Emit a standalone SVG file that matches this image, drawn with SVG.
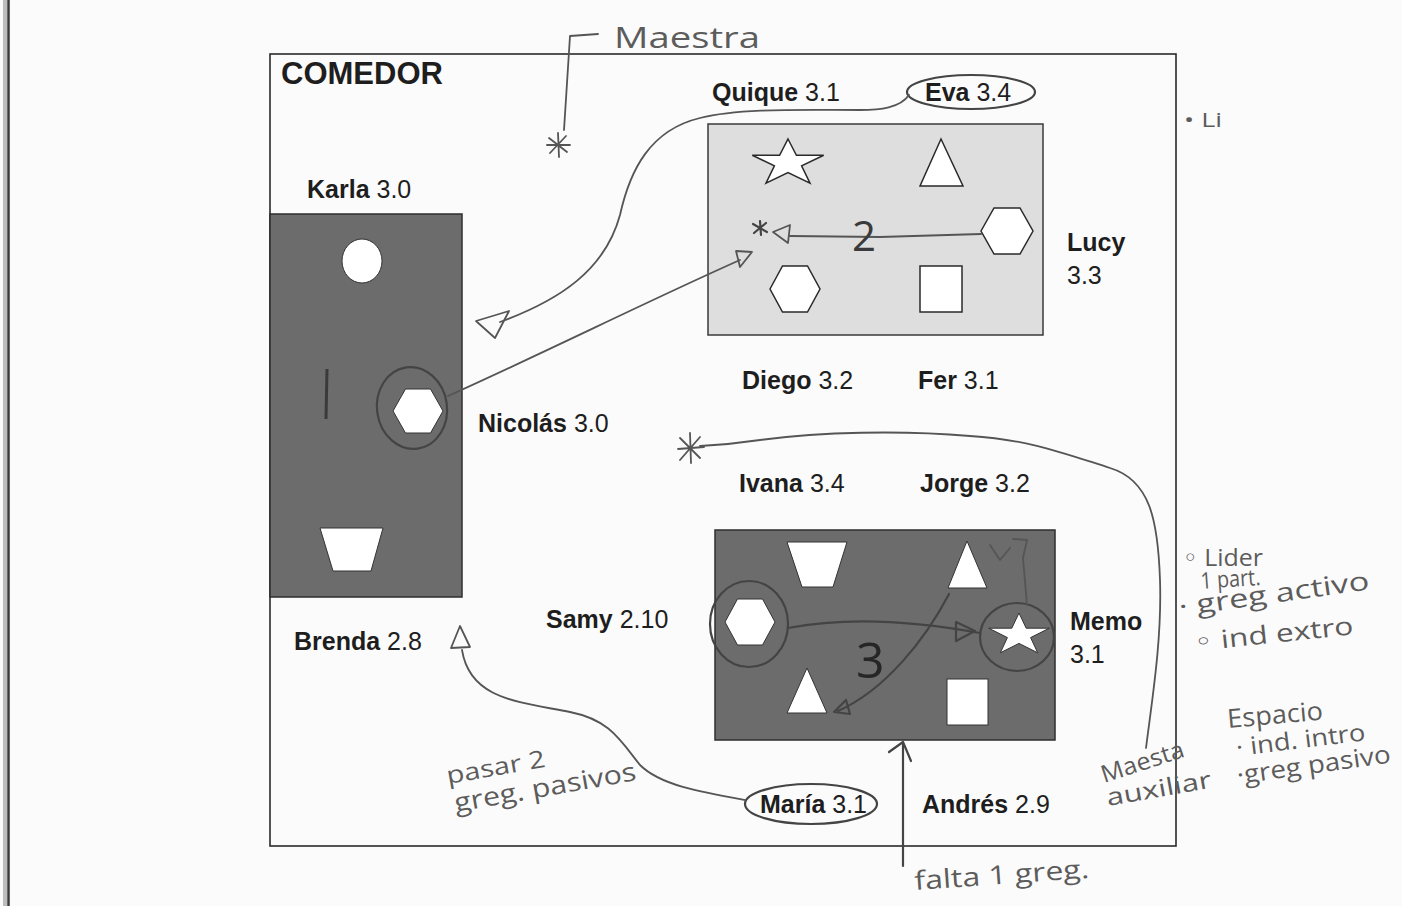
<svg xmlns="http://www.w3.org/2000/svg" width="1402" height="906" viewBox="0 0 1402 906">
<defs>
<style>
.page{fill:#fcfbfb}
.frame{fill:none;stroke:#2a2a2a;stroke-width:1.6}
.dark{fill:#6c6c6c;stroke:#2e2e2e;stroke-width:1.5}
.light{fill:#dedede;stroke:#3a3a3a;stroke-width:1.5}
.shape{fill:#ffffff;stroke:#2a2a2a;stroke-width:1.5}
.shapew{fill:#ffffff;stroke:#333;stroke-width:1}
.name{font-family:"Liberation Sans",Arial,sans-serif;font-size:25px;fill:#1e1e1e}
.name .b{font-weight:bold}
.title{font-family:"Liberation Sans",Arial,sans-serif;font-size:31px;font-weight:bold;fill:#1e1e1e}
.pen{fill:none;stroke:#555;stroke-width:1.8;stroke-linecap:round;stroke-linejoin:round}
.pend{fill:none;stroke:#444;stroke-width:2.2;stroke-linecap:round;stroke-linejoin:round}
.hand{font-family:"Open Sans","DejaVu Sans",sans-serif;fill:#5c5c5c;font-weight:normal}
.num{font-family:"Open Sans","DejaVu Sans",sans-serif;fill:#3a3a3a}
</style>
</defs>
<rect class="page" x="0" y="0" width="1402" height="906"/>
<rect x="3" y="0" width="4" height="906" fill="#bdbdbd"/>
<line x1="8.5" y1="0" x2="8.5" y2="906" stroke="#3a3a3a" stroke-width="2.5"/>

<g id="comedor">
<rect class="frame" x="270" y="54" width="906" height="792"/>
<text class="title" x="281" y="84">COMEDOR</text>
</g>

<g id="mesa-izquierda">
<rect class="dark" x="270" y="214" width="192" height="383"/>
<ellipse class="shapew" cx="362" cy="261" rx="20" ry="22"/>
<line x1="327" y1="369" x2="326" y2="419" stroke="#3a3a3a" stroke-width="3"/>
<polygon class="shapew" points="393,411 405.5,389 430.5,389 443,411 430.5,433 405.5,433"/>
<polygon class="shapew" points="320,528 383,528 371,571 333,571"/>
</g>

<g id="mesa-superior">
<rect class="light" x="708" y="124" width="335" height="211"/>
<path class="shape" d="M788,139 L796.4,155.3 L823.7,155.3 L801.6,165.9 L810,183.2 L788,172.5 L766,183.2 L774.4,165.9 L752.3,155.3 L779.6,155.3 Z"/>
<polygon class="shape" points="941,139 963,186 920,186"/>
<polygon class="shape" points="981,231 994,208 1020,208 1033,231 1020,254 994,254"/>
<polygon class="shape" points="770,289 782.5,266 807.5,266 820,289 807.5,312 782.5,312"/>
<rect class="shape" x="920" y="266" width="42" height="46"/>
</g>

<g id="mesa-inferior">
<rect class="dark" x="715" y="530" width="340" height="210"/>
<polygon class="shapew" points="787,542 847,542 833,587 802,587"/>
<polygon class="shapew" points="967,541 987,588 948,588"/>
<polygon class="shapew" points="725,622 737.5,599 762.5,599 775,622 762.5,645 737.5,645"/>
<path class="shapew" d="M1019,613 L1026.2,628.2 L1049.3,628.2 L1030.6,637.6 L1037.7,652.8 L1019,643.4 L1000.3,652.8 L1007.4,637.6 L988.7,628.2 L1011.8,628.2 Z"/>
<polygon class="shapew" points="807,668 827,713 787,713"/>
<rect class="shapew" x="947" y="679" width="41" height="46"/>
</g>

<g id="nombres">
<text class="name" x="712" y="101"><tspan class="b">Quique</tspan> 3.1</text>
<g id="eva"><ellipse class="pend" cx="971" cy="92" rx="64" ry="17"/><text class="name" x="925" y="101"><tspan class="b">Eva</tspan> 3.4</text></g>
<text class="name" x="307" y="198"><tspan class="b">Karla</tspan> 3.0</text>
<text class="name" x="1067" y="251"><tspan class="b">Lucy</tspan></text>
<text class="name" x="1067" y="284">3.3</text>
<text class="name" x="742" y="389"><tspan class="b">Diego</tspan> 3.2</text>
<text class="name" x="918" y="389"><tspan class="b">Fer</tspan> 3.1</text>
<text class="name" x="478" y="432"><tspan class="b">Nicolás</tspan> 3.0</text>
<text class="name" x="739" y="492"><tspan class="b">Ivana</tspan> 3.4</text>
<text class="name" x="920" y="492"><tspan class="b">Jorge</tspan> 3.2</text>
<text class="name" x="546" y="628"><tspan class="b">Samy</tspan> 2.10</text>
<text class="name" x="1070" y="630"><tspan class="b">Memo</tspan></text>
<text class="name" x="1070" y="663">3.1</text>
<text class="name" x="294" y="650"><tspan class="b">Brenda</tspan> 2.8</text>
<g id="maria"><ellipse class="pend" cx="811" cy="804" rx="66" ry="20"/><text class="name" x="760" y="813"><tspan class="b">María</tspan> 3.1</text></g>
<text class="name" x="922" y="813"><tspan class="b">Andrés</tspan> 2.9</text>
</g>

<g id="conectores">
<path class="pen" d="M598,34 L570,36 L564,130"/>
<path class="pen" d="M549,138 L567,152 M566,136 L550,153 M558,133 L559,157 M547,145 L570,145"/>
<path class="pen" d="M909,95 C900,108 880,110 860,110 C800,110 740,108 700,118 C650,130 630,170 620,215 C605,270 560,300 500,322"/>
<polygon class="pen" points="476,321 509,311 495,338"/>
<ellipse class="pend" cx="412" cy="408" rx="35" ry="41" transform="rotate(-8 412 408)"/>
<path class="pen" d="M448,396 C550,350 650,300 740,260"/>
<polygon class="pen" points="736,251 752,252 740,267"/>
<path class="pen" d="M981,234 L880,237 L790,236"/>
<polygon class="pen" points="773,232 790,225 788,243"/>
<path class="pend" d="M753,224 L767,232 M766,223 L754,233 M760,221 L761,235"/>
<path class="pen" d="M1146,748 C1152,700 1162,640 1160,580 C1158,520 1150,480 1110,468 C1060,452 1030,440 970,436 C900,430 820,432 760,440 C740,443 720,445 700,446"/>
<path class="pen" d="M680,438 L700,458 M700,437 L680,460 M690,433 L691,463 M678,449 L704,447"/>
<ellipse class="pend" cx="749" cy="624" rx="39" ry="43"/>
<ellipse class="pend" cx="1017" cy="637" rx="37" ry="34"/>
<path class="pend" d="M788,628 C850,616 920,622 980,633"/>
<polygon class="pend" points="956,622 975,631 956,641"/>
<path class="pen" d="M990,545 L1000,560 L1010,548 M1013,539 L1027,540 L1023,558 L1027,605"/>
<path class="pend" d="M949,594 C925,640 885,690 838,711"/>
<polygon class="pend" points="834,712 846,700 850,714"/>
<path class="pen" d="M745,800 C700,792 660,785 640,765 C620,740 610,720 570,712 C520,702 470,700 462,650"/>
<polygon class="pen" points="460,626 470,647 451,648"/>
<path class="pend" d="M903,866 L903,743"/>
<path class="pend" d="M889,752 L903,742 L911,761"/>
</g>

<g id="anotaciones">
<text class="hand" x="614" y="48" font-size="30" textLength="146" lengthAdjust="spacingAndGlyphs">Maestra</text>
<text class="hand" x="1184" y="127" font-size="20" textLength="38" lengthAdjust="spacingAndGlyphs">• Li</text>
<text class="num" x="852" y="251" font-size="42">2</text>
<text class="num" x="856" y="678" font-size="50" style="fill:#262626">3</text>
<text class="hand" x="1183" y="566" font-size="24" textLength="80" lengthAdjust="spacingAndGlyphs">◦ Lider</text>
<text class="hand" x="1201" y="589" font-size="23" textLength="60" lengthAdjust="spacingAndGlyphs" transform="rotate(-4 1201 589)">1 part.</text>
<text class="hand" x="1180" y="616" font-size="26" textLength="192" lengthAdjust="spacingAndGlyphs" transform="rotate(-8 1180 616)">· greg activo</text>
<text class="hand" x="1195" y="651" font-size="25" textLength="160" lengthAdjust="spacingAndGlyphs" transform="rotate(-6 1195 651)">◦ ind extro</text>
<text class="hand" x="1228" y="728" font-size="26" textLength="96" lengthAdjust="spacingAndGlyphs" transform="rotate(-5 1228 728)">Espacio</text>
<text class="hand" x="1237" y="756" font-size="24" textLength="130" lengthAdjust="spacingAndGlyphs" transform="rotate(-7 1237 756)">· ind. intro</text>
<text class="hand" x="1238" y="784" font-size="25" textLength="155" lengthAdjust="spacingAndGlyphs" transform="rotate(-8 1238 784)">·greg pasivo</text>
<text class="hand" x="1104" y="783" font-size="24" textLength="86" lengthAdjust="spacingAndGlyphs" transform="rotate(-18 1104 783)">Maesta</text>
<text class="hand" x="1108" y="806" font-size="24" textLength="106" lengthAdjust="spacingAndGlyphs" transform="rotate(-10 1108 806)">auxiliar</text>
<text class="hand" x="448" y="784" font-size="24" textLength="100" lengthAdjust="spacingAndGlyphs" transform="rotate(-10 448 784)">pasar 2</text>
<text class="hand" x="456" y="812" font-size="26" textLength="184" lengthAdjust="spacingAndGlyphs" transform="rotate(-10 456 812)">greg. pasivos</text>
<text class="hand" x="915" y="890" font-size="26" textLength="175" lengthAdjust="spacingAndGlyphs" transform="rotate(-4 915 890)">falta 1 greg.</text>
</g>
</svg>
